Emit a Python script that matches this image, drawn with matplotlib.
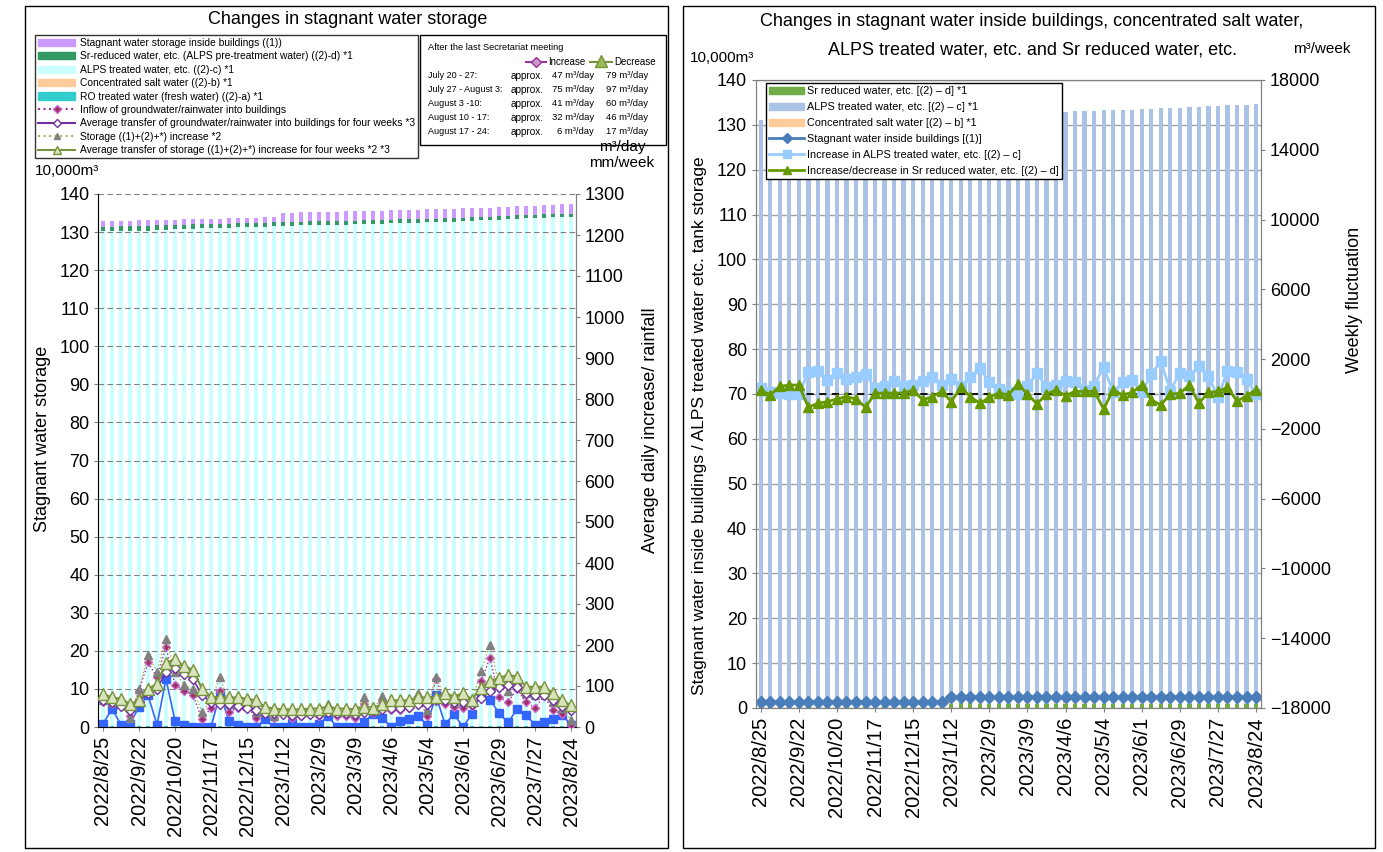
import matplotlib.pyplot as plt
import numpy as np
import pandas as pd
from matplotlib.patches import Patch, Rectangle
from matplotlib.lines import Line2D

plt.rcParams['font.family'] = ['Liberation Sans Narrow', 'Liberation Sans', 'DejaVu Sans']

# weekly dates 2022/8/25 - 2023/8/24
dates = pd.date_range('2022-08-25', '2023-08-24', freq='7D')
date_labels = [f"{d.year}/{d.month}/{d.day}" for d in dates]

# storage (10,000 m3)
ro_water = [0.3] * 53
conc_salt = [0.06] * 53
alps_water = [129.9, 129.91, 129.92, 129.92, 129.92, 130.05, 130.18, 130.26, 130.38, 130.46,
              130.56, 130.67, 130.70, 130.75, 130.82, 130.86, 130.92, 130.99, 131.09, 131.14,
              131.23, 131.27, 131.37, 131.51, 131.58, 131.61, 131.62, 131.62, 131.67, 131.79,
              131.83, 131.88, 131.96, 132.03, 132.05, 132.10, 132.26, 132.27, 132.33, 132.41,
              132.42, 132.54, 132.72, 132.74, 132.86, 132.97, 133.12, 133.23, 133.21, 133.34,
              133.47, 133.56, 133.56]
sr_water = [1.20, 1.19, 1.24, 1.29, 1.34, 1.26, 1.21, 1.17, 1.14, 1.12,
            1.10, 1.02, 1.02, 1.03, 1.03, 1.04, 1.06, 1.03, 1.01, 1.03,
            0.98, 1.02, 1.01, 0.95, 0.93, 0.94, 0.93, 0.99, 0.99, 0.93,
            0.93, 0.96, 0.95, 0.96, 0.98, 0.99, 0.91, 0.93, 0.92, 0.93,
            0.99, 0.95, 0.89, 0.89, 0.89, 0.94, 0.89, 0.90, 0.91, 0.95,
            0.91, 0.90, 0.93]
stagnant = [1.40, 1.41, 1.39, 1.40, 1.42, 1.41, 1.40, 1.38, 1.39, 1.40,
            1.41, 1.40, 1.39, 1.40, 1.41, 1.40, 1.39, 1.40, 1.41, 1.40,
            2.45, 2.44, 2.46, 2.45, 2.44, 2.43, 2.45, 2.46, 2.44, 2.45,
            2.44, 2.43, 2.45, 2.44, 2.46, 2.45, 2.44, 2.43, 2.45, 2.44,
            2.45, 2.46, 2.44, 2.45, 2.44, 2.43, 2.45, 2.44, 2.45, 2.44,
            2.43, 2.44, 2.45]

# m3/day
inflow = [60, 56, 51, 28, 88, 158, 121, 195, 102, 88, 79, 19, 46, 88, 37, 46, 51, 23, 33, 23,
          33, 23, 28, 33, 28, 46, 28, 28, 23, 57, 33, 60, 42, 42, 46, 72, 28, 117, 56, 49,
          47, 51, 111, 169, 72, 61, 93, 60, 47, 75, 41, 32, 6]
inflow_avg = [65, 60, 51, 42, 60, 84, 93, 135, 144, 130, 116, 79, 60, 56, 56, 51, 46, 42, 35, 33,
              31, 30, 30, 31, 31, 37, 33, 33, 32, 37, 40, 45, 46, 46, 48, 56, 56, 65, 65, 60,
              60, 56, 70, 88, 98, 102, 98, 84, 79, 79, 65, 51, 42]
storage_inc = [65, 60, 56, 23, 93, 176, 135, 214, 135, 102, 93, 37, 65, 121, 56, 56, 51, 37, 37, 28,
               42, 33, 37, 42, 37, 56, 37, 37, 33, 72, 42, 75, 51, 56, 60, 83, 42, 123, 70, 60,
               60, 65, 137, 201, 102, 89, 111, 84, 79, 97, 60, 46, 17]
storage_avg = [81, 72, 69, 56, 65, 93, 105, 157, 165, 149, 139, 93, 74, 72, 72, 72, 69, 65, 49, 45,
               43, 43, 43, 45, 45, 50, 45, 45, 43, 50, 47, 55, 65, 65, 65, 72, 72, 72, 83, 74,
               83, 67, 96, 113, 119, 127, 123, 98, 98, 98, 83, 65, 53]
# mm/week
rainfall = [7, 45, 5, 8, 49, 78, 5, 117, 15, 6, 0, 0, 0, 81, 15, 6, 0, 0, 19, 0,
            0, 10, 0, 0, 7, 26, 0, 0, 0, 13, 31, 23, 0, 15, 19, 26, 6, 77, 7, 31,
            0, 32, 84, 67, 34, 11, 43, 29, 6, 13, 19, 29, 6]

# m3/week
alps_change = [324, 95, 57, 0, 0, 1276, 1333, 800, 1181, 838, 952, 1143, 324, 438, 724, 438, 533, 724, 990, 533,
               857, 438, 952, 1467, 705, 286, 95, 0, 476, 1200, 381, 514, 762, 705, 229, 476, 1562, 95, 667, 800,
               95, 1143, 1867, 190, 1200, 1048, 1581, 1048, -190, 1333, 1276, 857, 0]
sr_change = [229, -57, 438, 514, 514, -762, -533, -438, -286, -152, -286, -762, 38, 57, 57, 57, 229, -343, -152, 152,
             -438, 381, -152, -533, -190, 57, -57, 571, 0, -571, 0, 229, -95, 152, 152, 152, -857, 229, -57, 95,
             514, -343, -629, 0, 38, 514, -533, 95, 152, 381, -419, -95, 248]

table_rows = ['July 20 - 27:', 'July 27 - August 3:', 'August 3 -10:', 'August 10 - 17:', 'August 17 - 24:']
table_inc = [47, 75, 41, 32, 6]
table_dec = [79, 97, 60, 46, 17]

W, H = 1383, 852
def fx(px):
    return px / W
def fy(py):
    return 1 - py / H

fig = plt.figure(figsize=(13.83, 8.52), dpi=100)
for x0, x1 in [(25, 668), (683, 1375)]:
    fig.patches.append(Rectangle((fx(x0), fy(848)), fx(x1 - x0), (848 - 6) / H,
                                 transform=fig.transFigure, fill=False, edgecolor='black', lw=1))

x = np.arange(len(dates))
tick_pos = x[::4]
tick_lab = date_labels[::4]

# ---------------- left chart ----------------
ax = fig.add_axes([fx(98.5), fy(727), fx(477), (727 - 194) / H])
bw = 0.55
bot = np.zeros(len(x))
for vals, col in [(ro_water, '#33CCCC'), (conc_salt, '#FFCC99'), (alps_water, '#CCFFFF'),
                  (sr_water, '#339966'), (stagnant, '#CC99FF')]:
    ax.bar(x, vals, width=bw, bottom=bot, color=col, zorder=1)
    bot = bot + np.array(vals)
ax.set_xlim(-0.5, 52.5)
ax.set_ylim(0, 140)
ax.set_yticks(np.arange(0, 141, 10))
ax.yaxis.grid(True, ls=(0, (5, 3)), color='#808080', lw=0.8)
ax.set_axisbelow(False)
ax.set_xticks(tick_pos)
ax.set_xticklabels(tick_lab, rotation=90)
ax.tick_params(labelsize=13, length=3, color='#808080')
ax.tick_params(axis='x', labelsize=14.5)
for s in ['left', 'right', 'bottom']:
    ax.spines[s].set_color('#808080')
ax.spines['top'].set_visible(False)
ax.set_ylabel('Stagnant water storage', fontsize=13)
ax.yaxis.set_label_coords(-0.100, 0.54)

ax2 = ax.twinx()
ax2.set_ylim(0, 1300)
ax2.set_yticks(np.arange(0, 1301, 100))
ax2.tick_params(labelsize=13, length=3, color='#808080')
ax2.spines['top'].set_visible(False)
ax2.spines['right'].set_color('#808080')
ax2.plot(x, rainfall, color='#3366FF', lw=1.2, marker='s', ms=6, zorder=2)
ax2.plot(x, inflow, color='#993399', ls=':', lw=1, marker='D', ms=4.5,
         mfc='#993366', mec='#CC66CC', zorder=3)
ax2.plot(x, storage_inc, color='#9BBB59', ls=':', lw=1, marker='^', ms=6,
         mfc='#808080', mec='#808080', zorder=3)
ax2.plot(x, inflow_avg, color='#7030A0', lw=1.2, marker='D', ms=5.5,
         mfc='white', mec='#7030A0', zorder=4)
ax2.plot(x, storage_avg, color='#77933C', lw=1.5, marker='^', ms=8,
         mfc='#D7E4BD', mec='#77933C', zorder=4)
ax2.set_ylabel('Average daily increase/ rainfall', fontsize=13)
ax2.yaxis.set_label_coords(1.139, 0.557)

fig.text(fx(348), fy(20), 'Changes in stagnant water storage', ha='center', va='center', fontsize=13)
fig.text(fx(35), fy(171), '10,000m³', ha='left', va='center', fontsize=11)
fig.text(fx(622), fy(147), 'm³/day', ha='center', va='center', fontsize=11)
fig.text(fx(622), fy(163), 'mm/week', ha='center', va='center', fontsize=11)

left_handles = [
    Patch(color='#CC99FF', label='Stagnant water storage inside buildings ((1))'),
    Patch(color='#339966', label='Sr-reduced water, etc. (ALPS pre-treatment water) ((2)-d) *1'),
    Patch(color='#CCFFFF', label='ALPS treated water, etc. ((2)-c) *1'),
    Patch(color='#FFCC99', label='Concentrated salt water ((2)-b) *1'),
    Patch(color='#33CCCC', label='RO treated water (fresh water) ((2)-a) *1'),
    Line2D([], [], color='#993399', ls=':', marker='D', ms=4, mfc='#993366', mec='#CC66CC',
           label='Inflow of groundwater/rainwater into buildings'),
    Line2D([], [], color='#7030A0', marker='D', ms=4.5, mfc='white', mec='#7030A0',
           label='Average transfer of groundwater/rainwater into buildings for four weeks *3'),
    Line2D([], [], color='#9BBB59', ls=':', marker='^', ms=5, mfc='#808080', mec='#808080',
           label='Storage ((1)+(2)+*) increase *2'),
    Line2D([], [], color='#77933C', lw=1.5, marker='^', ms=6, mfc='#D7E4BD', mec='#77933C',
           label='Average transfer of storage ((1)+(2)+*) increase for four weeks *2 *3'),
]
leg = fig.legend(handles=left_handles, loc='upper left', bbox_to_anchor=(fx(35), fy(35)),
                 fontsize=7.4, frameon=True, fancybox=False, edgecolor='black',
                 handlelength=3.6, handleheight=0.7, labelspacing=0.33, borderpad=0.3,
                 handletextpad=0.5, borderaxespad=0)
leg.get_frame().set_linewidth(1)

# table box
fig.patches.append(Rectangle((fx(420), fy(145)), fx(246), (145 - 35) / H,
                             transform=fig.transFigure, fill=False, edgecolor='black', lw=1))
fig.text(fx(428), fy(47), 'After the last Secretariat meeting', fontsize=6.7, va='center')
fig.lines.append(Line2D([fx(526), fx(546)], [fy(62), fy(62)], transform=fig.transFigure,
                        color='#993399'))
fig.lines.append(Line2D([fx(536)], [fy(62)], transform=fig.transFigure, ls='none',
                        marker='D', ms=5.5, mfc='#CC99CC', mec='#993399'))
fig.text(fx(548), fy(62), 'Increase', fontsize=7, va='center')
fig.lines.append(Line2D([fx(590), fx(612)], [fy(62), fy(62)], transform=fig.transFigure,
                        color='#77933C'))
fig.lines.append(Line2D([fx(601)], [fy(61)], transform=fig.transFigure, ls='none',
                        marker='^', ms=8, mfc='#9BBB59', mec='#77933C'))
fig.text(fx(614), fy(62), 'Decrease', fontsize=7, va='center')
for i, lab in enumerate(table_rows):
    yy = fy(76 + i * 14)
    fig.text(fx(428), yy, lab, fontsize=6.5, va='center')
    fig.text(fx(511), yy, 'approx.', fontsize=7.2, va='center')
    fig.text(fx(594), yy, f'{table_inc[i]} m³/day', fontsize=6.8, va='center', ha='right')
    fig.text(fx(648), yy, f'{table_dec[i]} m³/day', fontsize=6.8, va='center', ha='right')

# ---------------- right chart ----------------
ax3 = fig.add_axes([fx(756), fy(708), fx(504.8), (708 - 80) / H])
bw2 = 0.45
bot = np.zeros(len(x))
for vals, col in [(sr_water, '#70AD47'), (conc_salt, '#FFCC99'), (alps_water, '#A9C2E6')]:
    ax3.bar(x, vals, width=bw2, bottom=bot, color=col, zorder=2)
    bot = bot + np.array(vals)
ax3.plot(x, stagnant, color='#4A7EBB', lw=2, marker='D', ms=6, zorder=3)
ax3.set_xlim(-0.5, 52.5)
ax3.set_ylim(0, 140)
ax3.set_yticks(np.arange(0, 141, 10))
ax3.yaxis.grid(True, color='#A0A0A0', lw=1)
ax3.set_axisbelow(True)
ax3.set_xticks(tick_pos)
ax3.set_xticklabels(tick_lab, rotation=90)
ax3.tick_params(labelsize=13, length=3, color='#808080')
ax3.tick_params(axis='x', labelsize=14.5)
for s in ax3.spines.values():
    s.set_color('#808080')
ax3.set_ylabel('Stagnant water inside buildings / ALPS treated water etc. tank storage', fontsize=12.5)
ax3.yaxis.set_label_coords(-0.097, 0.45)

ax4 = ax3.twinx()
ax4.set_ylim(-18000, 18000)
ax4.set_yticks(np.arange(-18000, 18001, 4000))
ax4.tick_params(labelsize=13, length=3, color='#808080')
for s in ax4.spines.values():
    s.set_color('#808080')
ax4.axhline(0, color='black', ls=(0, (4, 3)), lw=1.3, zorder=1)
ax4.plot(x, alps_change, color='#99CCFF', lw=2, marker='s', ms=7, zorder=2)
ax4.plot(x, sr_change, color='#669900', lw=2, marker='^', ms=7, zorder=3)
ax4.set_ylabel('Weekly fluctuation', fontsize=13)
ax4.yaxis.set_label_coords(1.169, 0.65)

fig.text(fx(1032), fy(21), 'Changes in stagnant water inside buildings, concentrated salt water,',
         ha='center', va='center', fontsize=13)
fig.text(fx(1032), fy(50), 'ALPS treated water, etc. and Sr reduced water, etc.',
         ha='center', va='center', fontsize=13)
fig.text(fx(690), fy(58), '10,000m³', ha='left', va='center', fontsize=11)
fig.text(fx(1322), fy(49), 'm³/week', ha='center', va='center', fontsize=11)

right_handles = [
    Patch(color='#70AD47', label='Sr reduced water, etc. [(2) – d] *1'),
    Patch(color='#A9C2E6', label='ALPS treated water, etc. [(2) – c] *1'),
    Patch(color='#FFCC99', label='Concentrated salt water [(2) – b] *1'),
    Line2D([], [], color='#4A7EBB', lw=2, marker='D', ms=5, label='Stagnant water inside buildings [(1)]'),
    Line2D([], [], color='#99CCFF', lw=2, marker='s', ms=6, label='Increase in ALPS treated water, etc. [(2) – c]'),
    Line2D([], [], color='#669900', lw=2, marker='^', ms=6,
           label='Increase/decrease in Sr reduced water, etc. [(2) – d]'),
]
leg2 = ax4.legend(handles=right_handles, loc='upper left', bbox_to_anchor=(fx(766), fy(83)),
                  bbox_transform=fig.transFigure, fontsize=7.8, frameon=True, fancybox=False,
                  edgecolor='black', facecolor='white', framealpha=1,
                  handlelength=3.2, handleheight=0.7, labelspacing=0.55, borderpad=0.3,
                  handletextpad=0.3, borderaxespad=0)
leg2.get_frame().set_linewidth(1)

fig.savefig('out.png', dpi=100)
